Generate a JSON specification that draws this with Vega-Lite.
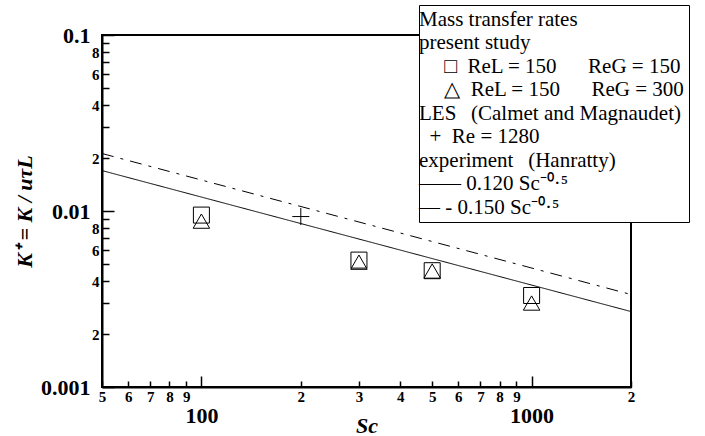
{
  "$schema": "https://vega.github.io/schema/vega-lite/v6.json",
  "width": 529,
  "height": 352,
  "autosize": {"type": "none"},
  "padding": {"left": 102, "top": 35, "right": 74, "bottom": 49},
  "background": "white",
  "config": {
    "view": {"stroke": "black", "strokeWidth": 2},
    "font": "Liberation Serif",
    "axis": {
      "domainColor": "black",
      "domainWidth": 2,
      "tickColor": "black",
      "tickWidth": 1.5,
      "labelColor": "black",
      "titleColor": "black",
      "labelFont": "Liberation Serif",
      "titleFont": "Liberation Serif",
      "labelFontWeight": "bold",
      "titleFontWeight": "bold",
      "titleFontStyle": "italic",
      "titleFontSize": 22,
      "grid": false,
      "labelOverlap": false,
      "labelFlush": false,
      "labelBound": false
    }
  },
  "datasets": {
    "rates": [
      {"Sc": 100, "K": 0.00948, "series": "sq"},
      {"Sc": 300, "K": 0.00526, "series": "sq"},
      {"Sc": 500, "K": 0.00458, "series": "sq"},
      {"Sc": 1000, "K": 0.00331, "series": "sq"},
      {"Sc": 100, "K": 0.00876, "series": "tri"},
      {"Sc": 300, "K": 0.00512, "series": "tri"},
      {"Sc": 500, "K": 0.00456, "series": "tri"},
      {"Sc": 1000, "K": 0.00300, "series": "tri"},
      {"Sc": 200, "K": 0.0093, "series": "les"}
    ],
    "fits": [
      {"Sc": 50, "K": 0.016971, "series": "fit12"},
      {"Sc": 2000, "K": 0.0026833, "series": "fit12"},
      {"Sc": 50, "K": 0.021213, "series": "fit15"},
      {"Sc": 2000, "K": 0.0033541, "series": "fit15"}
    ]
  },
  "encoding": {
    "x": {
      "field": "Sc",
      "type": "quantitative",
      "scale": {"type": "log", "domain": [50, 2000], "nice": false},
      "axis": {
        "title": "Sc",
        "titleBaseline": "alphabetic",
        "titleY": 45,
        "values": [50, 60, 70, 80, 90, 100, 200, 300, 400, 500, 600, 700, 800, 900, 1000, 2000],
        "labelExpr": "datum.value == 100 || datum.value == 1000 ? format(datum.value, 'd') : format(round(datum.value / pow(10, floor(log(datum.value) / LN10 + 1e-9))), 'd')",
        "labelFontSize": {"condition": {"test": "datum.value == 100 || datum.value == 1000", "value": 22}, "value": 15},
        "tickSize": {"condition": {"test": "datum.value == 100 || datum.value == 1000", "value": -11}, "value": -6},
        "labelPadding": {"condition": {"test": "datum.value == 100 || datum.value == 1000", "value": 29}, "value": 8}
      }
    },
    "y": {
      "field": "K",
      "type": "quantitative",
      "scale": {"type": "log", "domain": [0.001, 0.1], "nice": false},
      "axis": {
        "title": "K⁺ = K / uτL",
        "titlePadding": 4,
        "values": [0.001, 0.002, 0.003, 0.004, 0.005, 0.006, 0.007, 0.008, 0.009, 0.01, 0.02, 0.03, 0.04, 0.05, 0.06, 0.07, 0.08, 0.09, 0.1],
        "labelExpr": "datum.value == 0.1 ? '0.1' : datum.value == 0.01 ? '0.01' : datum.value == 0.001 ? '0.001' : (round(datum.value / pow(10, floor(log(datum.value) / LN10 + 1e-9))) % 2 == 0 ? format(round(datum.value / pow(10, floor(log(datum.value) / LN10 + 1e-9))), 'd') : '')",
        "labelFontSize": {"condition": {"test": "datum.value == 0.1 || datum.value == 0.01 || datum.value == 0.001", "value": 22}, "value": 15},
        "tickSize": {"condition": {"test": "datum.value == 0.1 || datum.value == 0.01 || datum.value == 0.001", "value": -12}, "value": -7},
        "labelPadding": {"condition": {"test": "datum.value == 0.1 || datum.value == 0.01 || datum.value == 0.001", "value": 24}, "value": 10}
      }
    }
  },
  "layer": [
    {
      "data": {"name": "fits"},
      "mark": {"type": "line", "color": "black", "strokeWidth": 1},
      "encoding": {
        "strokeDash": {
          "field": "series",
          "type": "nominal",
          "scale": {"domain": ["fit12", "fit15"], "range": [[1, 0], [12, 7, 3, 7]]},
          "legend": null
        }
      }
    },
    {
      "data": {"name": "rates"},
      "mark": {"type": "point", "filled": false, "stroke": "black", "strokeWidth": 1, "opacity": 1},
      "encoding": {
        "size": {
          "field": "series",
          "type": "nominal",
          "scale": {"domain": ["sq", "tri", "les"], "range": [256, 289, 324]},
          "legend": null
        },
        "shape": {
          "field": "series",
          "type": "nominal",
          "scale": {
            "domain": ["h1", "h2", "sq", "tri", "h3", "les", "h4", "fit12", "fit15"],
            "range": ["circle", "circle", "square", "triangle-up", "circle", "M-1,0H1M0,-1V1", "circle", "circle", "circle"]
          },
          "legend": {
            "title": null,
            "orient": "none",
            "legendX": 317,
            "legendY": -30,
            "direction": "vertical",
            "fillColor": "white",
            "strokeColor": "black",
            "padding": 4,
            "rowPadding": 1.5,
            "labelFont": "Liberation Serif",
            "labelFontSize": 21,
            "labelFontWeight": "normal",
            "labelColor": "black",
            "labelLimit": 400,
            "labelOffset": -25,
            "symbolSize": 1,
            "symbolOpacity": 0,
            "symbolStrokeWidth": 0,
            "labelExpr": "datum.label == 'h1' ? 'Mass transfer rates' : datum.label == 'h2' ? 'present study' : datum.label == 'sq' ? '\u200b\u2003\u2009\u25a1\u2002ReL = 150\u2003\u2002ReG = 150' : datum.label == 'tri' ? '\u200b\u2003\u2009\u25b3\u2002ReL = 150\u2003\u2002ReG = 300' : datum.label == 'h3' ? 'LES\u2002\u2009(Calmet and Magnaudet)' : datum.label == 'les' ? '\u200b\u2002+\u2002Re = 1280' : datum.label == 'h4' ? 'experiment\u2002\u2009(Hanratty)' : datum.label == 'fit12' ? '\u2014\u2014 0.120 Sc\u207b\u2070\u00b7\u2075' : '\u2014 - 0.150 Sc\u207b\u2070\u00b7\u2075'"
          }
        }
      }
    }
  ]
}
